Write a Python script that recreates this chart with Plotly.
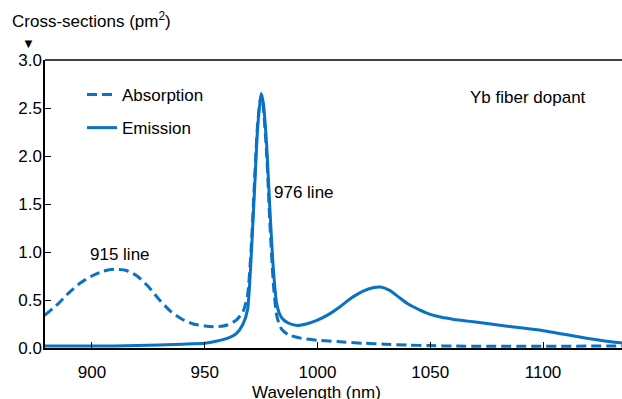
import plotly.graph_objects as go

# Data (wavelength in nm, cross-section in pm^2)
abs_wl = [879, 885, 890, 895, 900, 905, 910, 915, 920, 925, 930, 935, 940, 945, 950, 955, 960, 964, 967, 969,
          970.5, 972, 973.5, 975, 976, 977.5, 979, 980.5, 982, 984, 987, 993, 1000, 1010, 1020, 1030, 1040,
          1050, 1060, 1136]
abs_val = [0.34, 0.46, 0.58, 0.68, 0.75, 0.80, 0.82, 0.81, 0.75, 0.64, 0.50, 0.38, 0.30, 0.25, 0.23, 0.22, 0.24,
           0.29, 0.38, 0.55, 1.0, 1.7, 2.35, 2.63, 2.5, 2.0, 1.25, 0.65, 0.33, 0.20, 0.14, 0.10, 0.08, 0.065,
           0.05, 0.04, 0.03, 0.025, 0.02, 0.02]

em_wl = [879, 900, 920, 940, 950, 955, 960, 964, 967, 969, 970.5, 972, 973.5, 975, 976, 977.5, 979, 980.5, 982,
         984, 987, 991, 995, 1000, 1005, 1010, 1015, 1020, 1025, 1028, 1032, 1036, 1040, 1045, 1050, 1055, 1060,
         1065, 1070, 1080, 1090, 1100, 1110, 1120, 1130, 1136]
em_val = [0.02, 0.02, 0.025, 0.04, 0.05, 0.07, 0.10, 0.15, 0.25, 0.40, 0.9, 1.6, 2.3, 2.65, 2.55, 2.1, 1.4, 0.8,
          0.45, 0.32, 0.26, 0.235, 0.25, 0.29, 0.35, 0.43, 0.52, 0.59, 0.63, 0.635, 0.60, 0.53, 0.46, 0.40, 0.35,
          0.32, 0.30, 0.285, 0.27, 0.24, 0.21, 0.18, 0.14, 0.10, 0.065, 0.05]

x_ticks = [900, 950, 1000, 1050, 1100]
y_ticks = [0.0, 0.5, 1.0, 1.5, 2.0, 2.5, 3.0]

COLOR = "#0a72c4"
FONT = "Liberation Sans, Arial, sans-serif"
FS = 17

W, H = 622, 399
ML, MT, MB = 45, 60, 51
PW, PH = W - ML, H - MT - MB  # 577 x 288

fig = go.Figure()
fig.add_trace(go.Scatter(x=abs_wl, y=abs_val, mode="lines", name="Absorption", legendgroup="a",
                         line=dict(color=COLOR, width=3, dash="10px,5px", shape="spline", smoothing=0.6)))
fig.add_trace(go.Scatter(x=em_wl, y=em_val, mode="lines", name="Emission", legendgroup="b",
                         line=dict(color=COLOR, width=3, shape="spline", smoothing=0.6)))

fig.update_layout(
    width=W, height=H,
    margin=dict(l=ML, r=0, t=MT, b=MB, autoexpand=False),
    paper_bgcolor="white", plot_bgcolor="white",
    font=dict(family=FONT, size=FS, color="black"),
    showlegend=True,
    legend=dict(x=37 / PW, y=1 - 17 / PH, xanchor="left", yanchor="top", bgcolor="rgba(0,0,0,0)",
                font=dict(size=FS), traceorder="grouped", tracegroupgap=8, itemwidth=30),
    xaxis=dict(range=[879.2, 1135], tickvals=x_ticks, ticks="inside", ticklen=6, tickcolor="black",
               tickwidth=1.2, showline=True, linecolor="black", linewidth=1.5, showgrid=False,
               zeroline=False, automargin=False, ticklabelstandoff=8,
               tickfont=dict(size=FS)),
    yaxis=dict(range=[0, 3.0], tickvals=y_ticks, tickformat=".1f", ticks="inside", ticklen=6,
               tickcolor="black", tickwidth=1.2, showline=True, linecolor="black", linewidth=1.5,
               showgrid=False, zeroline=False, automargin=False, ticklabelstandoff=-2,
               tickfont=dict(size=FS)),
)

# top frame line
fig.add_shape(type="line", xref="paper", yref="paper", x0=0, x1=1, y0=1, y1=1,
              line=dict(color="black", width=1.5))

# axis titles
fig.add_annotation(text="Wavelength (nm)", xref="paper", yref="paper",
                   x=(316 - ML) / PW, y=-(392 - 348) / PH, xanchor="center", yanchor="middle",
                   showarrow=False, font=dict(size=FS))
fig.add_annotation(text="Cross-sections (pm<sup>2</sup>)", xref="paper", yref="paper",
                   x=-35 / PW, y=1 + 40 / PH, xanchor="left", yanchor="middle", showarrow=False,
                   font=dict(size=FS))
fig.add_annotation(text="▼", xref="paper", yref="paper", x=-17 / PW, y=1 + 17 / PH,
                   xanchor="center", yanchor="middle", showarrow=False, font=dict(size=13))
fig.add_annotation(text="915 line", x=912.5, y=0.97, showarrow=False, font=dict(size=FS))
fig.add_annotation(text="976 line", x=994, y=1.625, showarrow=False, font=dict(size=FS))
fig.add_annotation(text="Yb fiber dopant", x=1093.3, y=2.61, showarrow=False, font=dict(size=FS))

fig.write_html("out.html", config={"displayModeBar": False},
               post_script="document.body.style.margin='0';document.body.style.overflow='hidden';")
